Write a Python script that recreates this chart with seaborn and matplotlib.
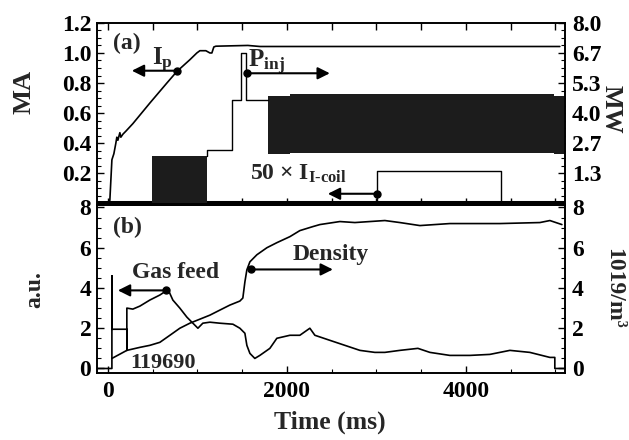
import matplotlib
matplotlib.use("Agg")
import matplotlib.pyplot as plt
import seaborn as sns
from matplotlib.ticker import MultipleLocator, FixedLocator

# ---------------- data ----------------
# panel (a): plasma current Ip [MA]
ip_t = [-123, 0, 22, 45, 67, 89, 100, 112, 134, 145, 168, 201, 279, 469, 659, 771,
        916, 994, 1028, 1095, 1140, 1162, 1184, 1207, 1564, 1700, 5050]
ip_ma = [0.005, 0.005, 0.02, 0.29, 0.33, 0.40, 0.44, 0.42, 0.47, 0.44, 0.46, 0.48, 0.53,
         0.667, 0.80, 0.877, 0.955, 1.00, 1.015, 1.015, 1.00, 1.00, 1.04, 1.045, 1.05,
         1.043, 1.043]
# zero-level baseline trace [MA]
base_t = [-123, 5106]
base_ma = [0.006, 0.006]
# injected power steps [MW]
pinj_t = [1106, 1106, 1385, 1385, 1486, 1486, 1542, 1542, 1788]
pinj_mw = [2.1, 2.37, 2.37, 4.59, 4.59, 6.67, 6.67, 4.59, 4.59]
# modulated-beam blocks [MW]
blk1_t = [492, 1106]
blk1_lo = [0.0, 0.0]
blk1_hi = [2.1, 2.1]
blk2_t = [1788, 2030, 4990, 5106]
blk2_lo = [2.2, 2.25, 2.2, 2.2]
blk2_hi = [4.74, 4.83, 4.76, 4.76]
# 50 x I-coil current [MW scale]
coil_t = [3006, 3006, 4391, 4391]
coil_mw = [0.0, 1.43, 1.43, 0.0]

# panel (b): gas feed [a.u.] and density [1e19/m3]
gas_t = [-123, 45, 45, 45, 212, 212, 212, 279, 358, 469, 581, 659, 670, 726, 804, 883,
         950, 1006, 1061, 1140, 1251, 1397, 1475, 1531, 1553, 1587, 1642, 1698, 1810,
         1888, 2034, 2145, 2257, 2313, 2480, 2648, 2816, 2983, 3095, 3263, 3464, 3598,
         3821, 4045, 4268, 4492, 4715, 4939, 4994, 4994, 5106]
gas_au = [0, 0, 4.6, 1.95, 1.95, 0.9, 3.0, 2.95, 3.1, 3.4, 3.65, 3.88, 3.95, 3.4, 3.0,
          2.55, 2.25, 2.0, 2.25, 2.3, 2.25, 2.2, 2.0, 1.75, 1.15, 0.75, 0.5, 0.65, 1.0,
          1.5, 1.65, 1.65, 2.0, 1.65, 1.4, 1.15, 0.9, 0.8, 0.8, 0.9, 1.0, 0.8, 0.65,
          0.65, 0.7, 0.9, 0.8, 0.55, 0.55, 0, 0]
dens_t = [45, 212, 358, 469, 581, 693, 804, 916, 1028, 1140, 1251, 1363, 1475, 1508,
          1531, 1553, 1587, 1665, 1777, 1888, 2034, 2145, 2291, 2369, 2592, 2760, 3095,
          3263, 3486, 3821, 4380, 4827, 4939, 5073]
dens_v = [0.5, 0.9, 1.05, 1.15, 1.3, 1.65, 2.0, 2.25, 2.45, 2.65, 2.9, 3.15, 3.35, 3.5,
          4.3, 4.9, 5.3, 5.65, 6.0, 6.25, 6.55, 6.85, 7.05, 7.15, 7.3, 7.25, 7.35, 7.25,
          7.1, 7.2, 7.2, 7.25, 7.35, 7.15]

ma_ticks = [0.2, 0.4, 0.6, 0.8, 1.0, 1.2]
ma_labels = ["0.2", "0.4", "0.6", "0.8", "1.0", "1.2"]
mw_ticks = [4 / 3, 8 / 3, 4.0, 16 / 3, 20 / 3, 8.0]
mw_labels = ["1.3", "2.7", "4.0", "5.3", "6.7", "8.0"]
b_ticks = [0, 2, 4, 6, 8]
b_labels = ["0", "2", "4", "6", "8"]
x_ticks = [0, 2000, 4000]
x_labels = ["0", "2000", "4000"]

# ---------------- style ----------------
sns.set_theme(style="ticks")
plt.rcParams["font.family"] = ["Liberation Serif", "DejaVu Serif"]
plt.rcParams["font.weight"] = "bold"
plt.rcParams["axes.labelweight"] = "bold"
plt.rcParams["mathtext.fontset"] = "custom"
plt.rcParams["mathtext.rm"] = "Liberation Serif:bold"
plt.rcParams["mathtext.it"] = "Liberation Serif:bold"
plt.rcParams["mathtext.bf"] = "Liberation Serif:bold"

K = "black"
FS_TICK = 17
FS_TXT = 17

fig = plt.figure(figsize=(6.29, 4.40), dpi=100)
ax1 = fig.add_axes([0.154, 0.534, 0.744, 0.414])
ax2 = fig.add_axes([0.154, 0.152, 0.744, 0.382])
XLIM = (-123, 5106)

def line(ax, x, y, lw=1.0):
    sns.lineplot(x=x, y=y, ax=ax, color=K, lw=lw, sort=False, estimator=None,
                 legend=False)

def style_axis(ax):
    for s in ax.spines.values():
        s.set_linewidth(1.2)
        s.set_color(K)
    ax.tick_params(which="both", direction="in", colors=K, labelsize=FS_TICK)
    ax.tick_params(which="major", length=5, width=1)
    ax.tick_params(which="minor", length=3, width=0.8)

# ---------------- panel (a) ----------------
ax1r = ax1.twinx()
ax1.set_xlim(*XLIM)
ax1.set_ylim(-0.011, 1.2)
ax1r.set_ylim(-0.011 * 8 / 1.2, 8.0)

line(ax1, base_t, base_ma, lw=2.2)
line(ax1, ip_t, ip_ma, lw=1.2)
ax1r.fill_between(blk1_t, blk1_lo, blk1_hi, color="#1c1c1c", lw=0)
ax1r.fill_between(blk2_t, blk2_lo, blk2_hi, color="#1c1c1c", lw=0, step="post")
line(ax1r, pinj_t, pinj_mw, lw=1.0)
line(ax1r, coil_t, coil_mw, lw=1.0)

for a in (ax1, ax1r):
    style_axis(a)
    a.set_xlabel("")
    a.set_ylabel("")
ax1.yaxis.set_major_locator(FixedLocator(ma_ticks))
ax1.set_yticklabels(ma_labels)
ax1.yaxis.set_minor_locator(MultipleLocator(0.05))
ax1r.yaxis.set_major_locator(FixedLocator(mw_ticks))
ax1r.set_yticklabels(mw_labels)
ax1r.yaxis.set_minor_locator(MultipleLocator(1 / 3))
ax1.xaxis.set_major_locator(MultipleLocator(500))
ax1.tick_params(axis="x", which="both", top=True, bottom=True, labelbottom=False)
ax1.tick_params(axis="y", pad=4)
ax1r.tick_params(axis="y", pad=5)

ax1.text(212, 1.062, "(a)", fontsize=FS_TXT, ha="center", va="center")
ax1.text(492, 0.915, r"I$_\mathrm{p}$", fontsize=FS_TXT + 1, ha="left", va="baseline")
ax1.annotate("", xy=(268, 0.882), xytext=(771, 0.882),
             arrowprops=dict(arrowstyle="-|>", color=K, lw=1.5, mutation_scale=18,
                             shrinkA=0, shrinkB=0))
ax1.plot([771], [0.882], "o", color=K, ms=5)
ax1.text(1564, 0.905, r"P$_\mathrm{inj}$", fontsize=FS_TXT + 1, ha="left", va="baseline")
ax1.annotate("", xy=(2480, 0.865), xytext=(1553, 0.865),
             arrowprops=dict(arrowstyle="-|>", color=K, lw=1.5, mutation_scale=18,
                             shrinkA=0, shrinkB=0))
ax1.plot([1553], [0.865], "o", color=K, ms=5)
ax1.text(1587, 0.155, "50 × I$_\\mathrm{I\\text{-}coil}$", fontsize=FS_TXT, ha="left",
         va="baseline")
ax1.annotate("", xy=(2458, 0.064), xytext=(3006, 0.064),
             arrowprops=dict(arrowstyle="-|>", color=K, lw=1.5, mutation_scale=18,
                             shrinkA=0, shrinkB=0))
ax1.plot([3006], [0.064], "o", color=K, ms=5)

# ---------------- panel (b) ----------------
ax2r = ax2.twinx()
ax2.set_xlim(*XLIM)
ax2.set_ylim(-0.23, 8.12)
ax2r.set_ylim(-0.23, 8.12)
line(ax2, gas_t, gas_au, lw=1.2)
line(ax2, dens_t, dens_v, lw=1.2)

for a in (ax2, ax2r):
    style_axis(a)
    a.set_xlabel("")
    a.set_ylabel("")
ax2.yaxis.set_major_locator(FixedLocator(b_ticks))
ax2.set_yticklabels(b_labels)
ax2.yaxis.set_minor_locator(MultipleLocator(0.5))
ax2r.yaxis.set_major_locator(FixedLocator(b_ticks))
ax2r.set_yticklabels(b_labels)
ax2r.yaxis.set_minor_locator(MultipleLocator(0.5))
ax2.xaxis.set_major_locator(FixedLocator(x_ticks))
ax2.set_xticklabels(x_labels)
ax2.xaxis.set_minor_locator(MultipleLocator(500))
ax2.tick_params(axis="x", which="both", bottom=True, top=False, pad=6)
ax2.tick_params(axis="y", pad=4)
ax2r.tick_params(axis="y", pad=5)

ax2.text(223, 7.0, "(b)", fontsize=FS_TXT, ha="center", va="center")
ax2.text(760, 4.5, "Gas feed", fontsize=FS_TXT, ha="center", va="baseline")
ax2.annotate("", xy=(112, 3.88), xytext=(648, 3.88),
             arrowprops=dict(arrowstyle="-|>", color=K, lw=1.5, mutation_scale=18,
                             shrinkA=0, shrinkB=0))
ax2.plot([648], [3.88], "o", color=K, ms=5)
ax2.text(2492, 5.4, "Density", fontsize=FS_TXT, ha="center", va="baseline")
ax2.annotate("", xy=(2514, 4.92), xytext=(1594, 4.92),
             arrowprops=dict(arrowstyle="-|>", color=K, lw=1.5, mutation_scale=18,
                             shrinkA=0, shrinkB=0))
ax2.plot([1594], [4.92], "o", color=K, ms=5)
ax2.text(620, 0.29, "119690", fontsize=FS_TXT - 1, ha="center", va="center")

# ---------------- axis titles ----------------
fig.text(0.0374, 0.791, "MA", fontsize=FS_TXT + 2, rotation=90, ha="center", va="center")
fig.text(0.972, 0.752, "MW", fontsize=FS_TXT + 1, rotation=270, ha="center", va="center")
fig.text(0.0556, 0.341, "a.u.", fontsize=FS_TXT, rotation=90, ha="center", va="center")
fig.text(0.975, 0.345, "1019/m³", fontsize=FS_TXT, rotation=270, ha="center", va="center")
fig.text(0.525, 0.041, "Time (ms)", fontsize=FS_TXT + 1.5, ha="center", va="center")

fig.savefig("out.png", dpi=100)
